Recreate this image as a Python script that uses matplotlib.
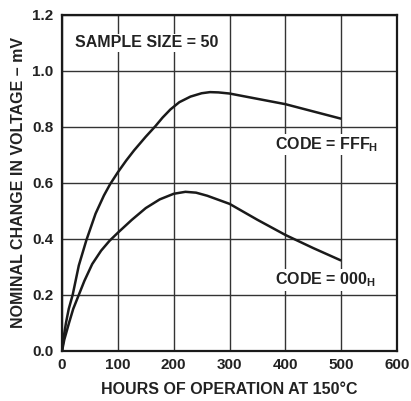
import matplotlib
matplotlib.use("Agg")
import matplotlib.pyplot as plt

plt.rcParams['font.family'] = ['Liberation Sans', 'DejaVu Sans']
plt.rcParams['font.weight'] = 'bold'
plt.rcParams['mathtext.fontset'] = 'custom'
plt.rcParams['mathtext.rm'] = 'Liberation Sans:bold'
plt.rcParams['mathtext.bf'] = 'Liberation Sans:bold'

hours_fff = [0, 3, 7, 12, 19, 30, 43.5, 60, 75, 86, 100, 115, 129, 150, 167, 180, 194, 210, 230,
             250, 265, 280, 300, 350, 400, 450, 500]
volt_fff = [0, 0.05, 0.1, 0.15, 0.2, 0.305, 0.395, 0.49, 0.555, 0.595, 0.638, 0.68, 0.716, 0.765, 0.802, 0.833,
            0.862, 0.888, 0.908, 0.92, 0.924, 0.923, 0.919, 0.9, 0.881, 0.855, 0.829]

hours_000 = [0, 4, 12.5, 20, 30, 40, 54, 70, 85, 100, 125, 150, 175, 200, 221, 240, 260, 300,
             350, 400, 450, 500]
volt_000 = [0, 0.04, 0.1, 0.15, 0.2, 0.25, 0.31, 0.358, 0.393, 0.422, 0.468, 0.51, 0.541, 0.561,
            0.568, 0.565, 0.554, 0.525, 0.468, 0.414, 0.367, 0.3225]

xticks = [0, 100, 200, 300, 400, 500, 600]
yticks = [0.0, 0.2, 0.4, 0.6, 0.8, 1.0, 1.2]

fig = plt.figure(figsize=(4.11, 4.01), dpi=100)
ax = fig.add_axes([0.151, 0.125, 0.815, 0.838])

ax.plot(hours_fff, volt_fff, color='#1a1a1a', lw=1.8, solid_capstyle='butt', solid_joinstyle='round')
ax.plot(hours_000, volt_000, color='#1a1a1a', lw=1.8, solid_capstyle='butt', solid_joinstyle='round')

ax.set_xlim(0, 600)
ax.set_ylim(0, 1.2)
ax.set_xticks(xticks)
ax.set_xticklabels([str(t) for t in xticks])
ax.set_yticks(yticks)
ax.set_yticklabels([f"{t:.1f}" for t in yticks])
ax.grid(True, color='#333333', lw=1.0)
ax.set_axisbelow(True)
ax.tick_params(length=0, labelsize=11, colors='#222222')
ax.tick_params(axis='y', pad=6)
ax.tick_params(axis='x', pad=5)
for s in ax.spines.values():
    s.set_linewidth(1.6)
    s.set_color('#1a1a1a')

ax.set_xlabel('HOURS OF OPERATION AT 150°C', fontsize=11.5, fontweight='bold', color='#222222', labelpad=7)
ax.set_ylabel('NOMINAL CHANGE IN VOLTAGE – mV', fontsize=11.5, fontweight='bold', color='#222222', labelpad=5)

ax.text(23, 1.10, 'SAMPLE SIZE = 50', fontsize=11.5, fontweight='bold', va='center', ha='left', color='#222222',
        bbox=dict(facecolor='white', edgecolor='none', pad=1))
ax.text(382, 0.737, r'CODE = FFF$_\mathbf{H}$', fontsize=11.5, fontweight='bold', va='center', ha='left', color='#222222',
        bbox=dict(facecolor='white', edgecolor='none', pad=1))
ax.text(382, 0.253, r'CODE = 000$_\mathbf{H}$', fontsize=11.5, fontweight='bold', va='center', ha='left', color='#222222',
        bbox=dict(facecolor='white', edgecolor='none', pad=1))

fig.savefig('out.png', dpi=100)
